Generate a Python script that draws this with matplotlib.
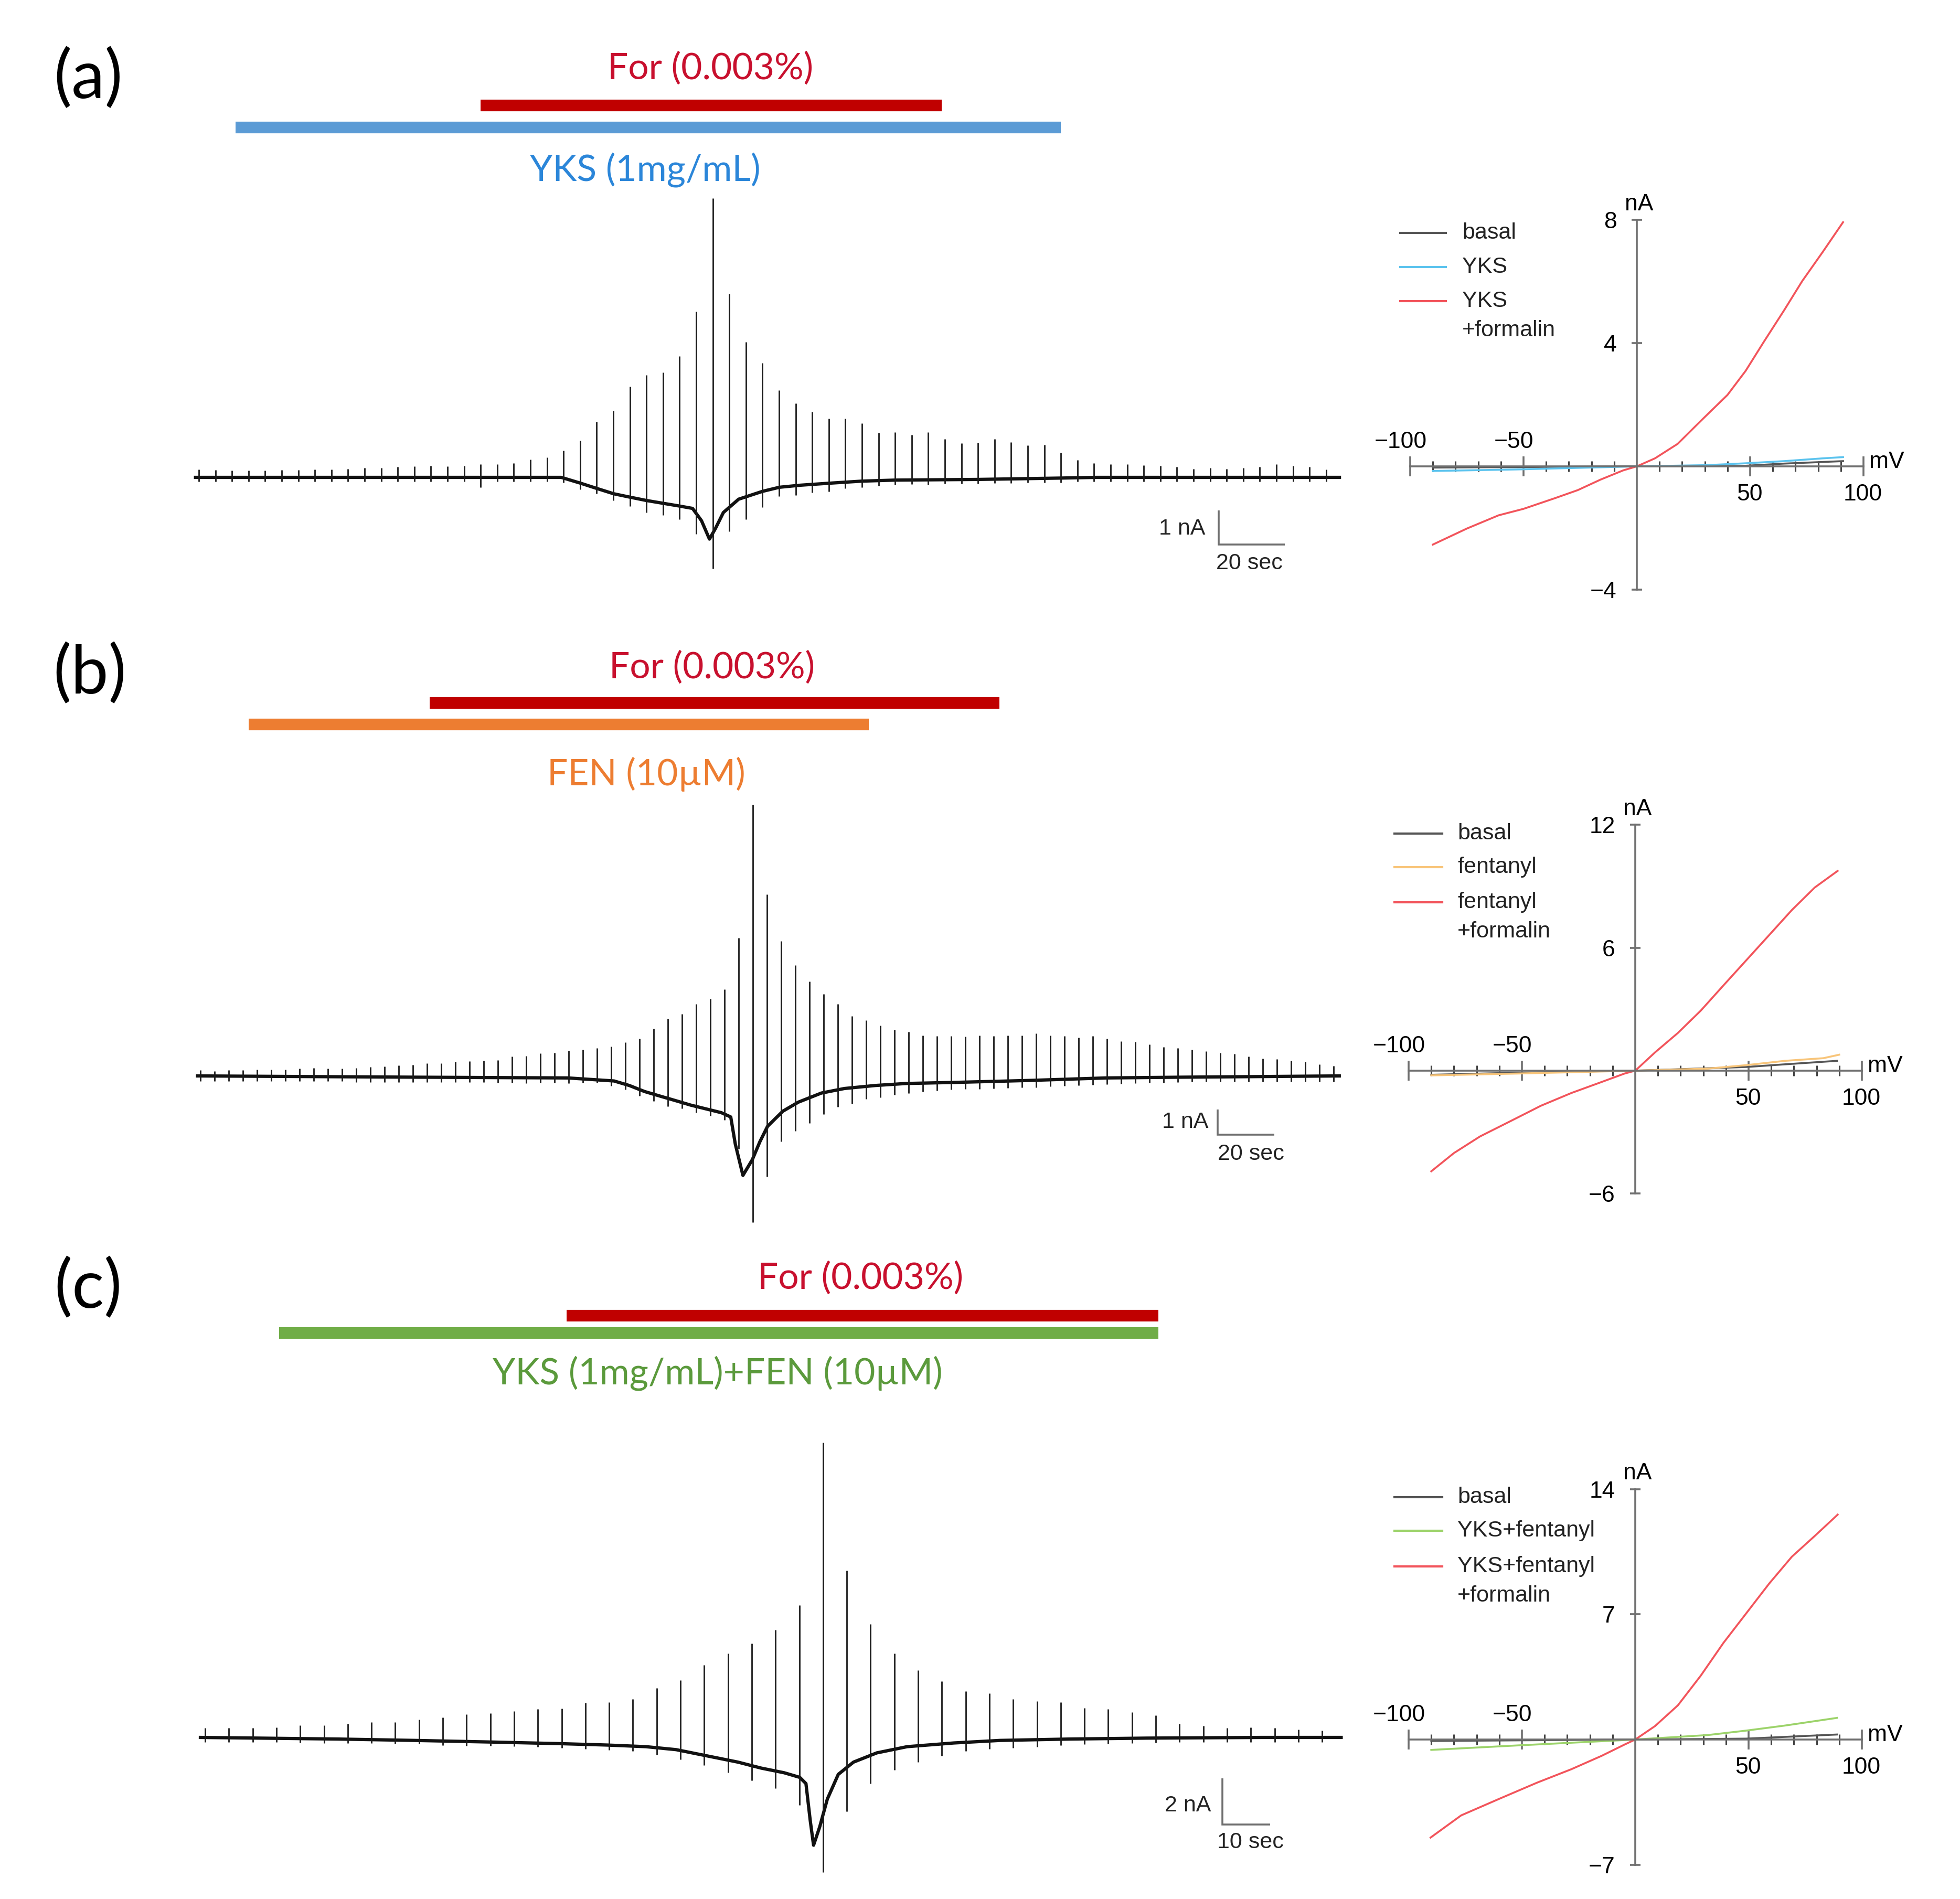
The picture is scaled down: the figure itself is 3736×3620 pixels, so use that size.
import numpy as np
import matplotlib
matplotlib.use("Agg")
import matplotlib.pyplot as plt
from matplotlib.lines import Line2D

plt.rcParams['font.family'] = ['Liberation Sans', 'DejaVu Sans']

W, H = 3736, 3620
period = 5.0   # one ramp every 5 s

# ---------------- traces: absolute peak / trough of every ramp (nA) ----------------
a_up = [0.23, 0.22, 0.20, 0.20, 0.20, 0.22, 0.22, 0.23, 0.23, 0.25,
        0.27, 0.28, 0.31, 0.33, 0.34, 0.33, 0.34, 0.39, 0.39, 0.42,
        0.53, 0.58, 0.78, 1.08, 1.63, 1.95, 2.66, 3.00, 3.08, 3.56,
        4.86, 8.19, 5.38, 3.97, 3.36, 2.56, 2.17, 1.92, 1.73, 1.73,
        1.59, 1.31, 1.33, 1.25, 1.33, 1.13, 1.00, 1.02, 1.13, 1.03,
        0.94, 0.95, 0.72, 0.50, 0.42, 0.39, 0.39, 0.36, 0.34, 0.31,
        0.25, 0.27, 0.25, 0.28, 0.30, 0.38, 0.34, 0.30, 0.23]
a_dn = [-0.12, -0.13, -0.12, -0.12, -0.13, -0.12, -0.12, -0.13, -0.12, -0.12,
        -0.13, -0.12, -0.13, -0.12, -0.13, -0.12, -0.13, -0.30, -0.13, -0.12,
        -0.13, -0.13, -0.15, -0.35, -0.48, -0.68, -0.84, -1.03, -1.11, -1.23,
        -1.66, -2.67, -1.58, -1.23, -0.88, -0.56, -0.52, -0.45, -0.41, -0.33,
        -0.29, -0.25, -0.22, -0.20, -0.22, -0.19, -0.18, -0.18, -0.17, -0.17,
        -0.16, -0.16, -0.15, -0.13, -0.12, -0.12, -0.13, -0.12, -0.12, -0.13,
        -0.12, -0.12, -0.13, -0.12, -0.12, -0.13, -0.12, -0.12, -0.12]
a_base_t = [0, 110.3, 116.1, 121.2, 126.1, 131.0, 136.1, 141.0, 145.9, 149.9, 152.6, 155.0,
            156.8, 159.2, 163.8, 171.0, 176.1, 182.4, 191.3, 201.0, 211.0, 236.2, 261.3, 271.3, 345.0]
a_base_i = [0.0, 0.0, -0.17, -0.33, -0.48, -0.58, -0.68, -0.76, -0.84, -0.91, -1.27, -1.81,
            -1.50, -1.03, -0.64, -0.41, -0.29, -0.23, -0.17, -0.11, -0.08, -0.06, -0.02, 0.0, 0.0]

b_up = [0.22, 0.19, 0.22, 0.22, 0.24, 0.24, 0.24, 0.30, 0.32, 0.30,
        0.30, 0.32, 0.35, 0.37, 0.42, 0.44, 0.49, 0.51, 0.56, 0.59,
        0.61, 0.63, 0.78, 0.80, 0.90, 0.92, 0.99, 1.04, 1.11, 1.16,
        1.33, 1.47, 1.88, 2.28, 2.45, 2.86, 3.07, 3.43, 5.47, 10.78,
        7.21, 5.36, 4.40, 3.74, 3.24, 2.86, 2.37, 2.21, 2.00, 1.83,
        1.76, 1.61, 1.59, 1.59, 1.57, 1.61, 1.59, 1.61, 1.61, 1.69,
        1.61, 1.59, 1.53, 1.59, 1.47, 1.38, 1.35, 1.26, 1.14, 1.11,
        1.04, 0.97, 0.92, 0.87, 0.78, 0.68, 0.66, 0.61, 0.57, 0.45,
        0.39]
b_dn = [-0.20, -0.21, -0.20, -0.20, -0.21, -0.20, -0.20, -0.21, -0.20, -0.21,
        -0.20, -0.24, -0.24, -0.25, -0.24, -0.24, -0.25, -0.24, -0.24, -0.25,
        -0.24, -0.28, -0.28, -0.29, -0.28, -0.28, -0.29, -0.28, -0.28, -0.40,
        -0.55, -0.80, -1.00, -1.20, -1.30, -1.45, -1.58, -1.75, -2.90, -5.82,
        -4.00, -2.60, -2.18, -1.88, -1.52, -1.22, -1.10, -0.92, -0.86, -0.75,
        -0.68, -0.62, -0.58, -0.55, -0.52, -0.52, -0.50, -0.48, -0.46, -0.45,
        -0.42, -0.40, -0.38, -0.36, -0.34, -0.32, -0.30, -0.28, -0.27, -0.26,
        -0.22, -0.22, -0.23, -0.22, -0.22, -0.23, -0.22, -0.22, -0.22, -0.22,
        -0.22]
b_base_t = [0, 76.4, 130.7, 147.0, 152.4, 157.8, 163.2, 168.7, 174.1, 179.5, 184.9, 188.2, 189.8, 192.5,
            195.8, 198.5, 201.2, 206.6, 212.1, 220.2, 228.3, 239.2, 250.1, 266.3, 293.5, 320.6, 347.7, 403.0]
b_base_i = [0.0, -0.05, -0.08, -0.20, -0.38, -0.62, -0.80, -0.98, -1.16, -1.31, -1.46, -1.63, -2.70, -3.95,
            -3.33, -2.61, -2.00, -1.40, -1.04, -0.68, -0.50, -0.38, -0.30, -0.26, -0.18, -0.08, -0.05, 0.0]

c_up = [0.40, 0.40, 0.40, 0.43, 0.53, 0.53, 0.60, 0.67, 0.67, 0.77,
        0.87, 1.00, 1.04, 1.13, 1.23, 1.25, 1.49, 1.53, 1.67, 2.13,
        2.47, 3.13, 3.63, 4.07, 4.67, 5.73, 12.77, 7.23, 4.91, 3.63,
        2.91, 2.43, 2.00, 1.92, 1.67, 1.57, 1.53, 1.27, 1.23, 1.09,
        0.96, 0.60, 0.51, 0.40, 0.43, 0.40, 0.33, 0.29]
c_dn = [-0.20, -0.20, -0.21, -0.20, -0.22, -0.25, -0.26, -0.25, -0.27, -0.28,
        -0.35, -0.36, -0.37, -0.38, -0.40, -0.45, -0.50, -0.55, -0.60, -0.75,
        -0.95, -1.20, -1.53, -1.87, -2.20, -2.93, -5.84, -3.20, -2.00, -1.40,
        -1.07, -0.80, -0.60, -0.50, -0.45, -0.40, -0.35, -0.30, -0.28, -0.25,
        -0.22, -0.20, -0.20, -0.20, -0.20, -0.20, -0.20, -0.20]
c_base_t = [0, 28.9, 45.1, 61.3, 75.8, 85.6, 93.7, 100.1, 106.6, 113.1, 118.0, 122.8, 126.1, 127.4,
            128.3, 129.0, 130.3, 131.9, 134.2, 137.4, 142.3, 148.7, 158.5, 168.2, 182.8, 199.0, 223.3, 240.0]
c_base_i = [0.0, -0.07, -0.13, -0.20, -0.27, -0.33, -0.40, -0.53, -0.80, -1.07, -1.33, -1.53, -1.73, -2.00,
            -3.60, -4.67, -3.87, -2.67, -1.60, -1.07, -0.67, -0.40, -0.24, -0.13, -0.07, -0.03, 0.0, 0.0]

# drug application windows (s)
a_for, a_drug = (86, 225), (12, 261)
b_for, b_drug = (82, 283), (18, 237)
c_for, c_drug = (77, 201.5), (16.6, 201.5)

# ---------------- I-V curves (mV, nA) ----------------
iv_a_basal_v = [-90, 0, 48, 65, 91]
iv_a_basal_i = [-0.04, 0, 0.02, 0.09, 0.17]
iv_a_drug_v = [-90, -53, 0, 31, 48, 65, 82, 91]
iv_a_drug_i = [-0.15, -0.10, 0, 0.04, 0.10, 0.17, 0.26, 0.30]
iv_a_for_v = [-90, -75, -61, -50, -36, -26, -16, -6, 0, 8, 18, 28, 40, 48, 56, 65, 73, 82, 91]
iv_a_for_i = [-2.54, -2.02, -1.59, -1.38, -1.03, -0.77, -0.43, -0.13, 0, 0.26, 0.73, 1.46,
              2.32, 3.10, 4.04, 5.07, 6.02, 6.96, 7.93]

iv_b_basal_v = [-90, -52, 0, 49, 66, 89]
iv_b_basal_i = [-0.20, -0.10, 0, 0.18, 0.31, 0.48]
iv_b_drug_v = [-90, -52, 0, 32, 49, 66, 83, 90]
iv_b_drug_i = [-0.23, -0.14, 0, 0.10, 0.27, 0.48, 0.61, 0.78]
iv_b_for_v = [-90, -80, -68.5, -55, -41.6, -28.2, -14.8, -4.7, 0, 8.7, 18.8, 28.9, 38.9, 49,
              59.1, 69.1, 79.2, 89.3]
iv_b_for_i = [-4.91, -4.02, -3.21, -2.46, -1.71, -1.09, -0.55, -0.14, 0, 0.89, 1.84, 2.93,
              4.16, 5.39, 6.62, 7.84, 8.94, 9.75]

iv_c_basal_v = [-90, 0, 49, 89]
iv_c_basal_i = [-0.08, 0, 0.05, 0.28]
iv_c_drug_v = [-90, -52, 0, 32, 49, 66, 89]
iv_c_drug_i = [-0.58, -0.33, 0, 0.25, 0.50, 0.78, 1.21]
iv_c_for_v = [-90.3, -76.8, -60.1, -43.3, -28.2, -14.8, -4.7, 0, 8.7, 18.8, 28.9, 38.9, 49,
              59.1, 69.1, 79.2, 89.3]
iv_c_for_i = [-5.48, -4.24, -3.32, -2.41, -1.66, -0.91, -0.28, 0, 0.75, 1.91, 3.57, 5.40,
              7.06, 8.72, 10.22, 11.38, 12.57]

fig = plt.figure(figsize=(W / 100, H / 100), dpi=100)
fig.patch.set_facecolor('white')

LATO = ['Lato', 'DejaVu Sans']
RED_BAR = '#C00000'


def place(box, x0, sx, y0, sy):
    # axes covering a pixel box, data scaled so that x0/y0 is the zero point
    l, t, r, b = box
    ax = fig.add_axes([l / W, 1 - b / H, (r - l) / W, (b - t) / H])
    ax.set_xlim((l - x0) / sx, (r - x0) / sx)
    ax.set_ylim((y0 - b) / sy, (y0 - t) / sy)
    return ax


def ftext(x, y, s, **kw):
    fig.text(x / W, 1 - y / H, s, **kw)


traces = [
    dict(up=a_up, dn=a_dn, bt=a_base_t, bi=a_base_i, fo=a_for, dr=a_drug,
         box=(0, 0, 2640, 1180), x0=372.7, sx=6.32, y0=910, sy=65,
         bars=(201, 243), dcol='#5B9BD5', tcol='#2B86D9',
         label='(a)', lab_xy=(168, 150), for_xy=(1354, 130),
         dlab='YKS (1mg/mL)', dlab_xy=(1230, 324),
         sb=(2323, 1038, 1, 20, '1 nA', '20 sec', 2297, 1008, 2381, 1074)),
    dict(up=b_up, dn=b_dn, bt=b_base_t, bi=b_base_i, fo=b_for, dr=b_drug,
         box=(0, 1180, 2640, 2350), x0=376.6, sx=5.4, y0=2051, sy=48,
         bars=(1340, 1381), dcol='#ED7D31', tcol='#ED7D31',
         label='(b)', lab_xy=(171, 1285), for_xy=(1357, 1272),
         dlab='FEN (10µM)', dlab_xy=(1232, 1476),
         sb=(2321, 2163, 1, 20, '1 nA', '20 sec', 2303, 2139, 2384, 2200)),
    dict(up=c_up, dn=c_dn, bt=c_base_t, bi=c_base_i, fo=c_for, dr=c_drug,
         box=(0, 2350, 2640, 3620), x0=382, sx=9.06, y0=3312, sy=44,
         bars=(2508, 2541), dcol='#70AD47', tcol='#5B9A3C',
         label='(c)', lab_xy=(168, 2456), for_xy=(1640, 2436),
         dlab='YKS (1mg/mL)+FEN (10µM)', dlab_xy=(1368, 2618),
         sb=(2330, 3478, 2, 10, '2 nA', '10 sec', 2308, 3442, 2383, 3512)),
]

for p in traces:
    ax = place(p['box'], p['x0'], p['sx'], p['y0'], p['sy'])
    ax.axis('off')
    iy = lambda py, p=p: (p['y0'] - py) / p['sy']
    tx = lambda px, p=p: (px - p['x0']) / p['sx']

    t = 1 + period * np.arange(len(p['up']))
    ax.plot(p['bt'], p['bi'], color='#111111', lw=4.5, solid_joinstyle='round')
    ax.vlines(t, p['dn'], p['up'], color='#1a1a1a', lw=2.0)

    # drug application bars
    ax.plot(p['fo'], [iy(p['bars'][0])] * 2, color=RED_BAR, lw=16, solid_capstyle='butt')
    ax.plot(p['dr'], [iy(p['bars'][1])] * 2, color=p['dcol'], lw=16, solid_capstyle='butt')

    # scale bar
    sx0, sy0, amp, dur, lab_i, lab_t, lix, liy, ltx, lty = p['sb']
    ax.plot([tx(sx0), tx(sx0), tx(sx0) + dur], [iy(sy0) + amp, iy(sy0), iy(sy0)],
            color='#707070', lw=2.6, solid_joinstyle='miter', solid_capstyle='butt')
    ftext(lix, liy, lab_i, ha='right', va='center', fontsize=31, color='#222222')
    ftext(ltx, lty, lab_t, ha='center', va='center', fontsize=31, color='#222222')

    ftext(*p['lab_xy'], p['label'], ha='center', va='center', fontsize=92, family=LATO)
    ftext(*p['for_xy'], 'For (0.003%)', ha='center', va='center', fontsize=50,
          color='#C8102E', family=LATO)
    ftext(*p['dlab_xy'], p['dlab'], ha='center', va='center', fontsize=50,
          color=p['tcol'], family=LATO)

ivs = [
    dict(box=(2600, 330, 3736, 1180), x0=3120, sx=4.32, y0=889, sy=58.7,
         yt=[-4, 4, 8], curves=[(iv_a_basal_v, iv_a_basal_i), (iv_a_drug_v, iv_a_drug_i),
                                (iv_a_for_v, iv_a_for_i)],
         colors=['#555555', '#5BC3EE', '#F2545B'],
         names=['basal', 'YKS', 'YKS\n+formalin'],
         leg=(2669, 2756, 2787, [444, 509, 574])),
    dict(box=(2600, 1480, 3736, 2350), x0=3117, sx=4.32, y0=2041, sy=39.06,
         yt=[-6, 6, 12], curves=[(iv_b_basal_v, iv_b_basal_i), (iv_b_drug_v, iv_b_drug_i),
                                 (iv_b_for_v, iv_b_for_i)],
         colors=['#555555', '#F8C57A', '#F2545B'],
         names=['basal', 'fentanyl', 'fentanyl\n+formalin'],
         leg=(2658, 2749, 2778, [1589, 1653, 1720])),
    dict(box=(2600, 2750, 3736, 3620), x0=3117, sx=4.32, y0=3316, sy=34.1,
         yt=[-7, 7, 14], curves=[(iv_c_basal_v, iv_c_basal_i), (iv_c_drug_v, iv_c_drug_i),
                                 (iv_c_for_v, iv_c_for_i)],
         colors=['#555555', '#9CD36A', '#F2545B'],
         names=['basal', 'YKS+fentanyl', 'YKS+fentanyl\n+formalin'],
         leg=(2658, 2749, 2778, [2854, 2918, 2986])),
]

AX_COL = '#707070'
for p in ivs:
    ax = place(p['box'], p['x0'], p['sx'], p['y0'], p['sy'])
    ax.patch.set_visible(False)
    for (v, i), col in zip(p['curves'], p['colors']):
        ax.plot(v, i, color=col, lw=2.6)

    for s in ('top', 'right'):
        ax.spines[s].set_visible(False)
    ax.spines['left'].set_position(('data', 0))
    ax.spines['bottom'].set_position(('data', 0))
    ax.spines['left'].set_bounds(p['yt'][0], p['yt'][-1])
    ax.spines['bottom'].set_bounds(-100, 100)
    for s in ('left', 'bottom'):
        ax.spines[s].set_color(AX_COL)
        ax.spines[s].set_linewidth(2.6)

    ax.set_xticks([-100, -50, 50, 100])
    ax.set_xticks([-90, -80, -70, -60, -40, -30, -20, -10, 10, 20, 30, 40, 60, 70, 80, 90],
                  minor=True)
    ax.tick_params(axis='x', which='major', direction='inout', length=27, width=2.6,
                   color=AX_COL, labelbottom=False)
    ax.tick_params(axis='x', which='minor', direction='inout', length=14, width=2.2,
                   color='#444444')
    ax.set_yticks(p['yt'])
    ax.set_yticklabels([str(v).replace('-', '\u2212') for v in p['yt']])
    ax.tick_params(axis='y', direction='inout', length=15, width=2.6, color=AX_COL,
                   labelsize=32, pad=20)

    for v in (-100, -50):
        ax.annotate('\u2212%d' % -v, xy=(v, 0), xytext=(-13, 19), textcoords='offset points',
                    ha='center', va='bottom', fontsize=32)
    for v in (50, 100):
        ax.annotate('%d' % v, xy=(v, 0), xytext=(-1, -24), textcoords='offset points',
                    ha='center', va='top', fontsize=32)
    ax.annotate('mV', xy=(100, 0), xytext=(8, 6), textcoords='offset points',
                ha='left', va='center', fontsize=32)
    ax.annotate('nA', xy=(0, p['yt'][-1]), xytext=(3, 7), textcoords='offset points',
                ha='center', va='bottom', fontsize=32)

    # legend drawn by hand so the handle sits on the first text line
    lx1, lx2, tx0, rows = p['leg']
    for row, name, col in zip(rows, p['names'], p['colors']):
        fig.add_artist(Line2D([lx1 / W, lx2 / W], [1 - row / H] * 2, color=col, lw=3,
                              transform=fig.transFigure))
        for k, line in enumerate(name.split('\n')):
            ftext(tx0, row + k * 56, line, ha='left', va='center', fontsize=31,
                  color='#222222')

fig.savefig('out.png', dpi=100, facecolor='white')
